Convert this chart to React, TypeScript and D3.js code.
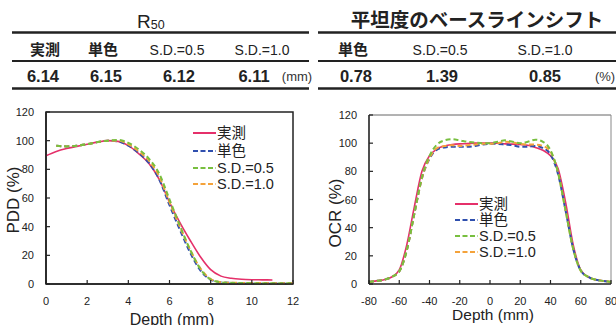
import React from "react";
import * as d3 from "d3";

// ---------- Table data ----------
const r50Headers = ["実測", "単色", "S.D.=0.5", "S.D.=1.0"];
const r50Values = ["6.14", "6.15", "6.12", "6.11"];
const flatHeaders = ["単色", "S.D.=0.5", "S.D.=1.0"];
const flatValues = ["0.78", "1.39", "0.85"];

// ---------- Legend ----------
const seriesNames = ["実測", "単色", "S.D.=0.5", "S.D.=1.0"];

// ---------- PDD data ----------
const pddMeasDepth = [0, 0.5, 1, 1.5, 2, 2.5, 3, 3.5, 4, 4.5, 5, 5.5, 6, 6.5, 7, 7.5, 8, 8.5, 9, 9.5, 10, 10.5, 11];
const pddMeas = [89.5, 92.5, 94.5, 96, 97.5, 99, 100, 99.5, 96.5, 91, 84, 73, 57, 43, 30.5, 19, 10, 5.5, 4, 3.3, 3, 2.9, 2.8];
const pddSimDepth = [0.5, 1, 1.5, 2, 2.5, 3, 3.5, 4, 4.5, 5, 5.5, 6, 6.5, 7, 7.5, 8, 8.5, 9, 10, 11, 12];
const pddMono = [96.5, 96, 96.5, 97.5, 99, 100, 99.5, 96.5, 91.5, 84.5, 73, 55, 38, 22, 9.5, 3, 1.2, 0.8, 0.6, 0.5, 0.5];
const pddSd05 = [96.5, 96, 96.5, 97.5, 99, 100, 100.5, 98.5, 94, 87.5, 77, 59, 41, 24, 10.5, 3.2, 1.2, 0.8, 0.6, 0.5, 0.5];
const pddSd10 = [96.5, 96, 96.5, 97.5, 99, 100, 100, 97.5, 92.5, 86, 75, 57, 40, 24, 11, 3.5, 1.3, 0.9, 0.7, 0.6, 0.6];

// ---------- OCR data ----------
const ocrPos = [-80, -75, -70, -65, -60, -55, -50, -45, -40, -35, -30, -25, -20, -15, -10, -5, 0, 5, 10, 15, 20, 25, 30, 35, 40, 45, 50, 55, 60, 65, 70, 75, 80];
const ocrMeas = [1.5, 2.2, 3, 5, 10, 28, 55, 80, 91, 96, 98, 99, 99.5, 99.7, 100, 100, 100, 100, 99.5, 99.3, 99, 98.5, 97, 95, 91, 82, 58, 28, 10, 5, 3, 2.2, 1.5];
const ocrMono = [1.5, 2.2, 3, 5, 9, 24, 50, 75, 89, 95.5, 97, 97.5, 97.5, 97.5, 98, 99, 99.5, 99.5, 99, 98.5, 97.5, 97.5, 98, 96.5, 92, 78, 52, 25, 9.5, 5, 3, 2.2, 1.5];
const ocrSd05 = [1.5, 2.2, 3, 5, 9, 24, 50, 76, 91, 99, 102, 102.8, 102, 101, 100.5, 100, 100, 101, 102, 101, 100, 101, 102.5, 101, 95, 79, 52, 25, 9.5, 5, 3, 2.2, 1.5];
const ocrSd10 = [1.5, 2.2, 3, 5, 9, 24, 50, 75, 89.5, 96.5, 98, 98.5, 98, 98.5, 99, 99.5, 99.5, 100, 101, 100.5, 99.5, 99, 99, 98, 94, 79, 52, 25, 9.5, 5, 3, 2.2, 1.5];

const pddXTicks = [0, 2, 4, 6, 8, 10, 12];
const ocrXTicks = [-80, -60, -40, -20, 0, 20, 40, 60, 80];
const yTicks = [0, 20, 40, 60, 80, 100, 120];

const COLORS = ["#e5306a", "#2f4fae", "#78bf3f", "#f4a23a"];
const LATIN = "'Liberation Sans', Arial, 'Noto Sans CJK JP', sans-serif";
const JP = "'Noto Sans CJK JP', 'Liberation Sans', sans-serif";

type Series = { xs: number[]; ys: number[] };

function Chart(props: {
  x0: number; x1: number; y0: number; y1: number;
  xDomain: [number, number]; xTicks: number[];
  series: Series[]; yLabel: string; yLabelX: number; yLabelY: number;
  xLabelX: number; xLabelY: number; xLabelSize: number;
  legendX: number; legendYs: number[]; fullFrame: boolean;
}) {
  const { x0, x1, y0, y1 } = props;
  const x = d3.scaleLinear().domain(props.xDomain).range([x0, x1]);
  const y = d3.scaleLinear().domain([0, 120]).range([y1, y0]);
  const line = d3
    .line<[number, number]>()
    .x((d) => x(d[0]))
    .y((d) => y(d[1]))
    .curve(d3.curveMonotoneX);
  const order = [0, 1, 3, 2];
  return (
    <g>
      {props.fullFrame ? (
        <rect x={x0} y={y0} width={x1 - x0} height={y1 - y0} fill="none" stroke="#222" strokeWidth={1.5} />
      ) : (
        <g>
          <line x1={x0} x2={x1} y1={y0} y2={y0} stroke="#666" strokeWidth={1} />
          <line x1={x1} x2={x1} y1={y0} y2={y1} stroke="#888" strokeWidth={1} />
        </g>
      )}
      {order.map((i) => {
        const s = props.series[i];
        const pts = s.xs.map((v, k) => [v, s.ys[k]] as [number, number]);
        return (
          <path
            key={i}
            d={line(pts) || ""}
            fill="none"
            stroke={COLORS[i]}
            strokeWidth={i === 0 ? 1.6 : 2}
            strokeDasharray={i === 0 ? undefined : "5,3"}
          />
        );
      })}
      <line x1={x0} x2={x1} y1={y1} y2={y1} stroke="#222" strokeWidth={1.6} />
      <line x1={x0} x2={x0} y1={y0} y2={y1} stroke="#222" strokeWidth={1.6} />
      {props.xTicks.map((t) => (
        <g key={"x" + t}>
          <line x1={x(t)} x2={x(t)} y1={y1} y2={y1 - 4} stroke="#222" strokeWidth={1.2} />
          <text x={x(t)} y={y1 + 21} textAnchor="middle" fontSize={11} fill="#222" fontFamily={LATIN}>
            {t}
          </text>
        </g>
      ))}
      {yTicks.map((t) => (
        <g key={"y" + t}>
          <line x1={x0} x2={x0 + 4} y1={y(t)} y2={y(t)} stroke="#222" strokeWidth={1.2} />
          <text x={x0 - 12} y={y(t) + 4} textAnchor="end" fontSize={11} fill="#222" fontFamily={LATIN}>
            {t}
          </text>
        </g>
      ))}
      <text x={props.xLabelX} y={props.xLabelY} textAnchor="middle" fontSize={props.xLabelSize} fill="#222" fontFamily={LATIN}>
        Depth (mm)
      </text>
      <text
        transform={`translate(${props.yLabelX},${props.yLabelY}) rotate(-90)`}
        textAnchor="middle"
        fontSize={17}
        fill="#222"
        fontFamily={LATIN}
      >
        {props.yLabel}
      </text>
      {seriesNames.map((n, i) => (
        <g key={n}>
          <line
            x1={props.legendX}
            x2={props.legendX + 23}
            y1={props.legendYs[i]}
            y2={props.legendYs[i]}
            stroke={COLORS[i]}
            strokeWidth={2}
            strokeDasharray={i === 0 ? undefined : "5,2.5"}
          />
          <text x={props.legendX + 24} y={props.legendYs[i] + 5} fontSize={14.5} fill="#222" fontFamily={i < 2 ? JP : LATIN}>
            {n}
          </text>
        </g>
      ))}
    </g>
  );
}

export default function App() {
  const r50HeaderX = [45, 103, 177, 262];
  const r50ValueX = [43, 106, 179, 254];
  const flatHeaderX = [353, 440, 545];
  const flatValueX = [356, 442, 545];
  return (
    <svg width={616} height={325} style={{ position: "absolute", left: 0, top: 0, background: "#fff" }}>
      <rect width={616} height={325} fill="#fff" />
      {/* Left table */}
      <text x={137} y={28} fontSize={19} fill="#222" fontFamily={LATIN}>
        R<tspan fontSize={12.5} dy={1}>50</tspan>
      </text>
      <line x1={12} x2={309} y1={32.5} y2={32.5} stroke="#222" strokeWidth={2.5} />
      <line x1={12} x2={309} y1={61} y2={61} stroke="#222" strokeWidth={2} />
      <line x1={12} x2={309} y1={88.5} y2={88.5} stroke="#222" strokeWidth={2.5} />
      {r50Headers.map((h, i) => (
        <text key={h} x={r50HeaderX[i]} y={55} textAnchor="middle" fontSize={i < 2 ? 15 : 14}
          fontWeight={i < 2 ? 700 : 400} fill="#222" fontFamily={i < 2 ? JP : LATIN}>
          {h}
        </text>
      ))}
      {r50Values.map((v, i) => (
        <text key={v + i} x={r50ValueX[i]} y={82} textAnchor="middle" fontSize={16.5} fontWeight={700} fill="#222" fontFamily={LATIN}>
          {v}
        </text>
      ))}
      <text x={297} y={81} textAnchor="middle" fontSize={13} fill="#333" fontFamily={LATIN}>(mm)</text>

      {/* Right table */}
      <text x={477} y={27} textAnchor="middle" fontSize={19.5} fontWeight={700} fill="#222" fontFamily={JP}>
        平坦度のベースラインシフト
      </text>
      <line x1={318} x2={616} y1={32.5} y2={32.5} stroke="#222" strokeWidth={2.5} />
      <line x1={318} x2={616} y1={61} y2={61} stroke="#222" strokeWidth={2} />
      <line x1={318} x2={616} y1={88.5} y2={88.5} stroke="#222" strokeWidth={2.5} />
      {flatHeaders.map((h, i) => (
        <text key={h} x={flatHeaderX[i]} y={55} textAnchor="middle" fontSize={i < 1 ? 15 : 14}
          fontWeight={i < 1 ? 700 : 400} fill="#222" fontFamily={i < 1 ? JP : LATIN}>
          {h}
        </text>
      ))}
      {flatValues.map((v, i) => (
        <text key={v} x={flatValueX[i]} y={82} textAnchor="middle" fontSize={16.5} fontWeight={700} fill="#222" fontFamily={LATIN}>
          {v}
        </text>
      ))}
      <text x={605} y={81} textAnchor="middle" fontSize={13} fill="#333" fontFamily={LATIN}>(%)</text>

      <Chart
        x0={46} x1={293} y0={112} y1={284}
        xDomain={[0, 12]} xTicks={pddXTicks}
        series={[
          { xs: pddMeasDepth, ys: pddMeas },
          { xs: pddSimDepth, ys: pddMono },
          { xs: pddSimDepth, ys: pddSd05 },
          { xs: pddSimDepth, ys: pddSd10 },
        ]}
        yLabel="PDD (%)" yLabelX={19} yLabelY={200}
        xLabelX={172} xLabelY={325} xLabelSize={16}
        legendX={193} legendYs={[133, 151, 168, 184]} fullFrame={true}
      />
      <Chart
        x0={369} x1={611} y0={115} y1={284}
        xDomain={[-80, 80]} xTicks={ocrXTicks}
        series={[
          { xs: ocrPos, ys: ocrMeas },
          { xs: ocrPos, ys: ocrMono },
          { xs: ocrPos, ys: ocrSd05 },
          { xs: ocrPos, ys: ocrSd10 },
        ]}
        yLabel="OCR (%)" yLabelX={341} yLabelY={213}
        xLabelX={493} xLabelY={319.5} xLabelSize={15.5}
        legendX={455} legendYs={[204, 220, 236, 252]} fullFrame={false}
      />
    </svg>
  );
}
